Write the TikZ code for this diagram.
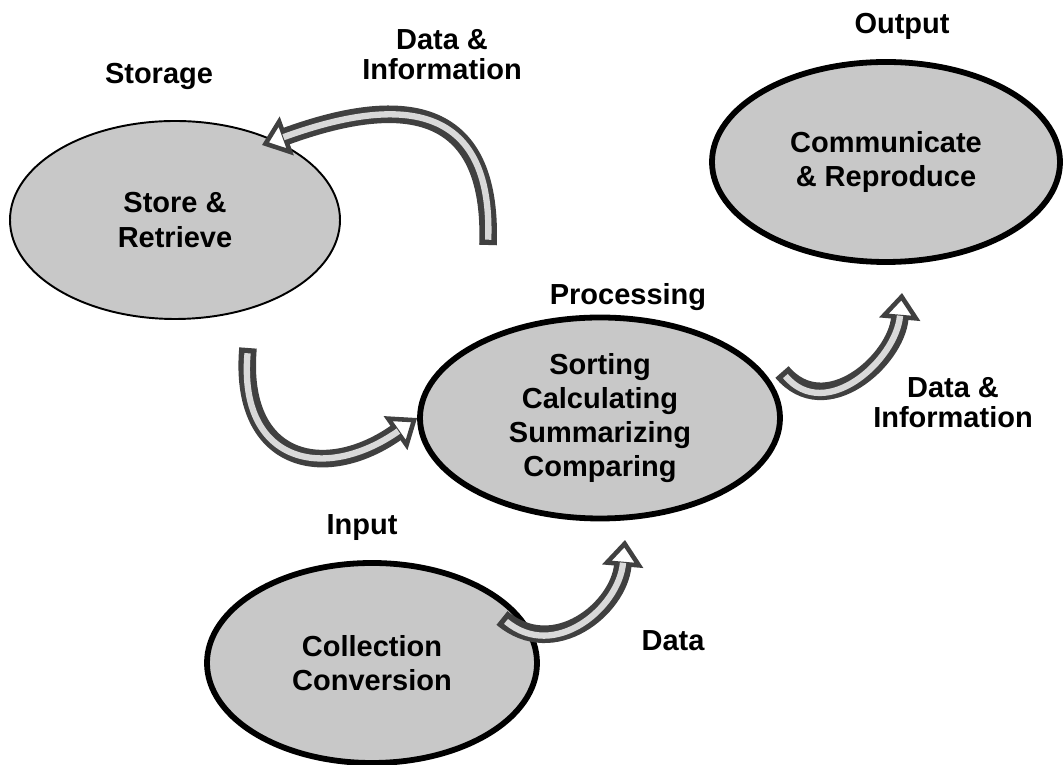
\documentclass[tikz,border=0pt]{standalone}
\usepackage{fontspec}
\setmainfont{Liberation Sans}
\usetikzlibrary{arrows.meta,shapes.geometric,positioning}
\pgfdeclarelayer{edgelayer}
\pgfdeclarelayer{nodelayer}
\pgfsetlayers{nodelayer,main,edgelayer}
\definecolor{blobgray}{RGB}{200,200,200}
\definecolor{arrowgray}{RGB}{64,64,64}
\tikzset{
	blob/.style={ellipse, fill=blobgray, draw=black, line width=3.3pt, inner sep=0pt, align=center, font=\fontsize{16.5}{19.5}\selectfont\bfseries},
	tag/.style={align=center, font=\fontsize{16.5}{17}\selectfont\bfseries},
	bent/.style={draw=arrowgray, line width=10pt, -{Triangle[length=15pt, width=23pt, line width=2.6pt, fill=white]},
		postaction={draw=blobgray!70, line width=3.6pt, arrows=-, shorten >=13pt, shorten <=3pt}}
}
\begin{document}
\begin{tikzpicture}
	\useasboundingbox (0, 0) rectangle (21.26, 15.3);
	\begin{pgfonlayer}{nodelayer}
		\node [blob, line width=1.1pt, minimum width=6.6cm, minimum height=3.96cm] (0) at (3.5, 10.9) {Store \&\\Retrieve};
		\node [blob, minimum width=6.96cm, minimum height=4cm] (1) at (17.72, 12.06) {Communicate\\\& Reproduce};
		\node [blob, minimum width=7.2cm, minimum height=4.02cm] (2) at (12, 6.94) {Sorting\\Calculating\\Summarizing\\Comparing};
		\node [blob, minimum width=6.6cm, minimum height=4cm] (3) at (7.44, 2.04) {Collection\\Conversion};
		\node [tag] (4) at (3.18, 13.78) {Storage};
		\node [tag] (5) at (8.84, 14.2) {Data \&\\Information};
		\node [tag] (6) at (18.04, 14.78) {Output};
		\node [tag] (7) at (12.56, 9.36) {Processing};
		\node [tag] (8) at (19.06, 7.24) {Data \&\\Information};
		\node [tag] (9) at (7.24, 4.74) {Input};
		\node [tag] (10) at (13.46, 2.48) {Data};
		\coordinate (11) at (9.76, 10.4);
		\coordinate (12) at (5.24, 12.4);
		\coordinate (13) at (4.96, 8.34);
		\coordinate (14) at (15.64, 7.86);
		\coordinate (15) at (18.04, 9.44);
		\coordinate (16) at (10.04, 2.94);
		\coordinate (17) at (12.5, 4.5);
	\end{pgfonlayer}
	\begin{pgfonlayer}{edgelayer}
		\draw [bent] (11) to[out=88, in=20, looseness=1.5] (12);
		\draw [bent] (13) to[out=265, in=215, looseness=1.6] (2.west);
		\draw [bent] (14) to[out=-50, in=265, looseness=1.2] (15);
		\draw [bent] (16) to[out=-40, in=265, looseness=1.2] (17);
	\end{pgfonlayer}
\end{tikzpicture}
\end{document}
